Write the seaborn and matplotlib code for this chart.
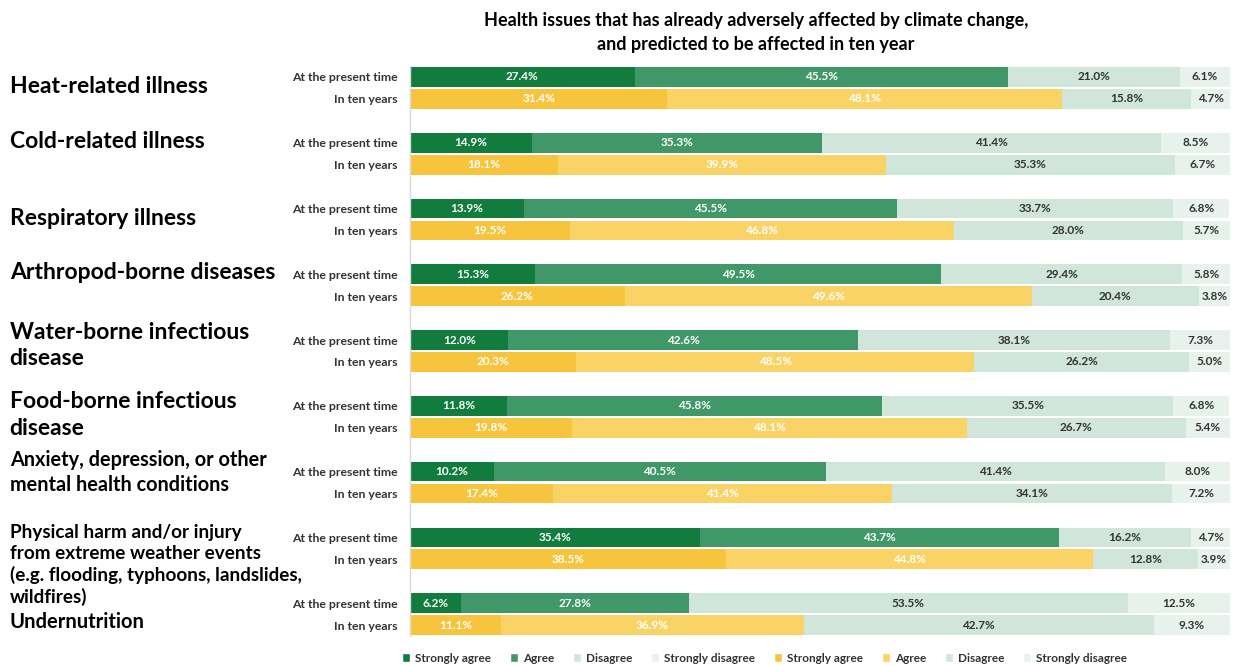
import numpy as np
import matplotlib.pyplot as plt
import seaborn as sns
from matplotlib.patches import Patch

# ---------- data ----------
issues = [
    "Heat-related illness",
    "Cold-related illness",
    "Respiratory illness",
    "Arthropod-borne diseases",
    "Water-borne infectious\ndisease",
    "Food-borne infectious\ndisease",
    "Anxiety, depression, or other\nmental health conditions",
    "Physical harm and/or injury\nfrom extreme weather events\n(e.g. flooding, typhoons, landslides,\nwildfires)",
    "Undernutrition",
]
periods = ["At the present time", "In ten years"]
responses = ["Strongly agree", "Agree", "Disagree", "Strongly disagree"]

# percent per response (columns) for each issue (rows)
present = [
    [27.4, 45.5, 21.0, 6.1],
    [14.9, 35.3, 41.4, 8.5],
    [13.9, 45.5, 33.7, 6.8],
    [15.3, 49.5, 29.4, 5.8],
    [12.0, 42.6, 38.1, 7.3],
    [11.8, 45.8, 35.5, 6.8],
    [10.2, 40.5, 41.4, 8.0],
    [35.4, 43.7, 16.2, 4.7],
    [6.2, 27.8, 53.5, 12.5],
]
ten_years = [
    [31.4, 48.1, 15.8, 4.7],
    [18.1, 39.9, 35.3, 6.7],
    [19.5, 46.8, 28.0, 5.7],
    [26.2, 49.6, 20.4, 3.8],
    [20.3, 48.5, 26.2, 5.0],
    [19.8, 48.1, 26.7, 5.4],
    [17.4, 41.4, 34.1, 7.2],
    [38.5, 44.8, 12.8, 3.9],
    [11.1, 36.9, 42.7, 9.3],
]

# ---------- style ----------
sns.set_theme(style="white")
plt.rcParams["font.family"] = ["Lato", "DejaVu Sans"]

green_cols = ["#127C3E", "#409868", "#D0E6DA", "#E6F2EB"]
yellow_cols = ["#F7C43D", "#FAD366", "#D0E6DA", "#E6F2EB"]
label_cols = ["white", "white", "#333333", "#333333"]

# vertical offsets (points), size and line spacing for the big issue labels
label_dy = [1, 9, 1, 9, 4, 1.5, 7, -12, -6]
label_fs = [16.5, 16.5, 16.5, 16.5, 16.5, 16.5, 14.3, 13.6, 14.5]
label_ls = [1.0, 1.0, 1.0, 1.0, 1.33, 1.33, 1.31, 1.26, 1.0]

fig = plt.figure(figsize=(12.33, 6.66), dpi=100)
ax = fig.add_axes([0.3325, 0.045, 0.6651, 0.8559])

ypos = []
for i in range(len(issues)):
    for j, (vals, cols) in enumerate([(present[i], green_cols), (ten_years[i], yellow_cols)]):
        y = 3 * i + j
        ypos.append((y, periods[j]))
        left = 0.0
        for k, v in enumerate(vals):
            ax.barh(y, v, left=left, height=0.9, color=cols[k], edgecolor="none")
            ax.text(left + v / 2, y, f"{v:.1f}%", ha="center", va="center",
                    fontsize=8.5, fontweight="bold", color=label_cols[k])
            left += v

ax.set_xlim(0, 100)
ax.set_ylim(25.5, -0.5)
ax.set_yticks([p[0] for p in ypos])
ax.set_yticklabels([p[1] for p in ypos], fontsize=8.8, fontweight="bold", color="#333333")
ax.tick_params(axis="y", length=0, pad=9)
ax.set_xticks([])
sns.despine(ax=ax, top=True, right=True, bottom=True, left=False)
ax.spines["left"].set_color("#D9D9D9")
ax.spines["left"].set_linewidth(1)

# big issue labels on the left
for i, name in enumerate(issues):
    ax.annotate(name, xy=(0, 3 * i + 0.5), xycoords=("figure fraction", "data"),
                xytext=(7, label_dy[i]), textcoords="offset points",
                ha="left", va="center", fontsize=label_fs[i], fontweight="bold",
                color="black", linespacing=label_ls[i])

fig.text(0.613, 0.951,
         "Health issues that has already adversely affected by climate change,\n"
         "and predicted to be affected in ten year",
         ha="center", va="center", fontsize=13, fontweight="bold",
         color="black", linespacing=1.45)

handles = [Patch(facecolor=c, label=r) for c, r in zip(green_cols, responses)] + \
          [Patch(facecolor=c, label=r) for c, r in zip(yellow_cols, responses)]
leg = fig.legend(handles=handles, ncol=8, loc="center", bbox_to_anchor=(0.62, 0.012),
                 frameon=False, fontsize=8.5, handlelength=0.7, handleheight=0.7,
                 handletextpad=0.4, columnspacing=1.6)
for t in leg.get_texts():
    t.set_fontweight("bold")
    t.set_color("#333333")

fig.savefig("out.png", dpi=100)
